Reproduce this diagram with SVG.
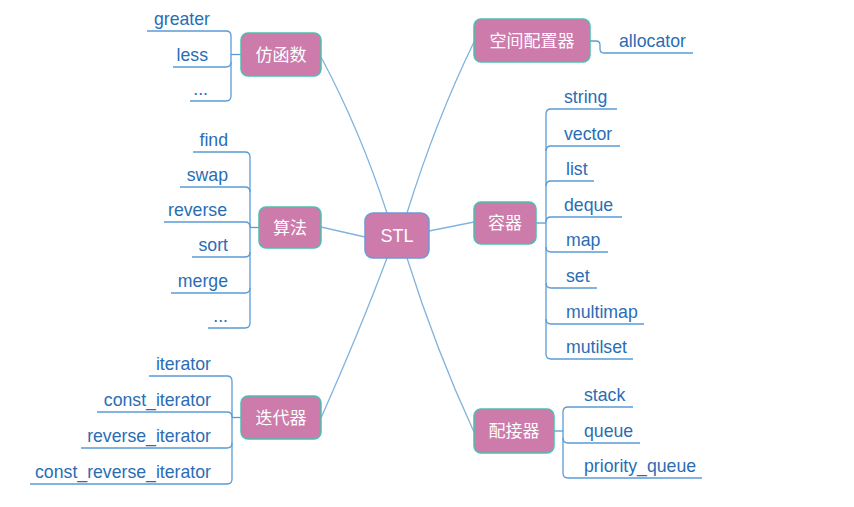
<svg xmlns="http://www.w3.org/2000/svg" width="854" height="507" viewBox="0 0 854 507">
<style>
.node{fill:#cc7bab;stroke:#4cc0ad;stroke-width:1.5}
.root{fill:#cc7bab;stroke:#6b9bd8;stroke-width:1.5}
.nt{font-family:"Noto Sans CJK SC","Liberation Sans",sans-serif;font-size:17px;fill:#ffffff;text-anchor:middle}
.rt{font-family:"Liberation Sans",Arial,sans-serif;font-size:18px;fill:#ffffff;text-anchor:middle}
.lf{font-family:"Liberation Sans",Arial,sans-serif;font-size:17.7px;fill:#2a6db5}
.l{text-anchor:end}
.br{fill:none;stroke:#5b9bd5;stroke-width:1.3}
.cn{fill:none;stroke:#82b3de;stroke-width:1.3}
</style>
<rect width="854" height="507" fill="#ffffff"/>
<g id="connectors">
<path class="cn" d="M321,57 Q360,130 387,213"/>
<path class="cn" d="M474,42 Q436,120 407,213"/>
<path class="cn" d="M321,227 L365,237"/>
<path class="cn" d="M474,222 L429,231"/>
<path class="cn" d="M321,418 Q360,330 387,258"/>
<path class="cn" d="M474,432 Q436,350 407,258"/>
<path class="br" d="M241,54.5 H231"/>
<path class="br" d="M147,31 H226 Q231,31 231,36 V96 Q231,101 226,101 H190"/>
<path class="br" d="M173,67 H226 Q231,67 231,62"/>
<path class="br" d="M259,227.5 H250"/>
<path class="br" d="M193,152 H245 Q250,152 250,157 V323 Q250,328 245,328 H208"/>
<path class="br" d="M180,187 H245 Q250,187 250,192"/>
<path class="br" d="M164,222 H245 Q250,222 250,227"/>
<path class="br" d="M192,257 H245 Q250,257 250,252"/>
<path class="br" d="M171,293 H245 Q250,293 250,288"/>
<path class="br" d="M241,417.5 H232"/>
<path class="br" d="M149,376 H227 Q232,376 232,381 V479 Q232,484 227,484 H30"/>
<path class="br" d="M97,412 H227 Q232,412 232,417"/>
<path class="br" d="M81,448 H227 Q232,448 232,443"/>
<path class="br" d="M590,41 H596 Q600,41 600,45 V49 Q600,53 604,53 H693"/>
<path class="br" d="M536,223 H546"/>
<path class="br" d="M617,109 H551 Q546,109 546,114 V354 Q546,359 551,359 H633"/>
<path class="br" d="M620,146 H551 Q546,146 546,151"/>
<path class="br" d="M594,181 H551 Q546,181 546,186"/>
<path class="br" d="M622,217 H551 Q546,217 546,222"/>
<path class="br" d="M608,252 H551 Q546,252 546,247"/>
<path class="br" d="M597,288 H551 Q546,288 546,283"/>
<path class="br" d="M644,324 H551 Q546,324 546,319"/>
<path class="br" d="M554,431 H563"/>
<path class="br" d="M633,407 H568 Q563,407 563,412 V473 Q563,478 568,478 H702"/>
<path class="br" d="M640,443 H568 Q563,443 563,438"/>
</g>
<g id="stl"><rect class="root" x="365" y="213" width="64" height="45" rx="8"/><text class="rt" x="397" y="242">STL</text></g>
<g id="functor"><rect class="node" x="241" y="33" width="80" height="43" rx="7"/><text class="nt" x="281" y="60.5">仿函数</text></g>
<g id="algorithm"><rect class="node" x="259" y="207" width="62" height="41" rx="7"/><text class="nt" x="290" y="233.5">算法</text></g>
<g id="iterator"><rect class="node" x="241" y="396" width="80" height="43" rx="7"/><text class="nt" x="281" y="423.5">迭代器</text></g>
<g id="allocator"><rect class="node" x="474" y="19" width="116" height="43" rx="7"/><text class="nt" x="532" y="46.5">空间配置器</text></g>
<g id="container"><rect class="node" x="474" y="202" width="62" height="42" rx="7"/><text class="nt" x="505" y="229">容器</text></g>
<g id="adapter"><rect class="node" x="474" y="409" width="80" height="44" rx="7"/><text class="nt" x="514" y="437">配接器</text></g>
<g id="leaves">
<text class="lf l" x="210" y="25">greater</text>
<text class="lf l" x="208" y="61">less</text>
<text class="lf l" x="208" y="95">...</text>
<text class="lf l" x="228" y="146">find</text>
<text class="lf l" x="228" y="181">swap</text>
<text class="lf l" x="227" y="216">reverse</text>
<text class="lf l" x="228" y="251">sort</text>
<text class="lf l" x="228" y="287">merge</text>
<text class="lf l" x="228" y="322">...</text>
<text class="lf l" x="211" y="370">iterator</text>
<text class="lf l" x="211" y="406">const_iterator</text>
<text class="lf l" x="211" y="442">reverse_iterator</text>
<text class="lf l" x="211" y="478">const_reverse_iterator</text>
<text class="lf" x="619" y="47">allocator</text>
<text class="lf" x="564" y="103">string</text>
<text class="lf" x="564" y="140">vector</text>
<text class="lf" x="566" y="175">list</text>
<text class="lf" x="564" y="211">deque</text>
<text class="lf" x="566" y="246">map</text>
<text class="lf" x="566" y="282">set</text>
<text class="lf" x="566" y="318">multimap</text>
<text class="lf" x="566" y="353">mutilset</text>
<text class="lf" x="584" y="401">stack</text>
<text class="lf" x="584" y="437">queue</text>
<text class="lf" x="584" y="472">priority_queue</text>
</g>
</svg>
